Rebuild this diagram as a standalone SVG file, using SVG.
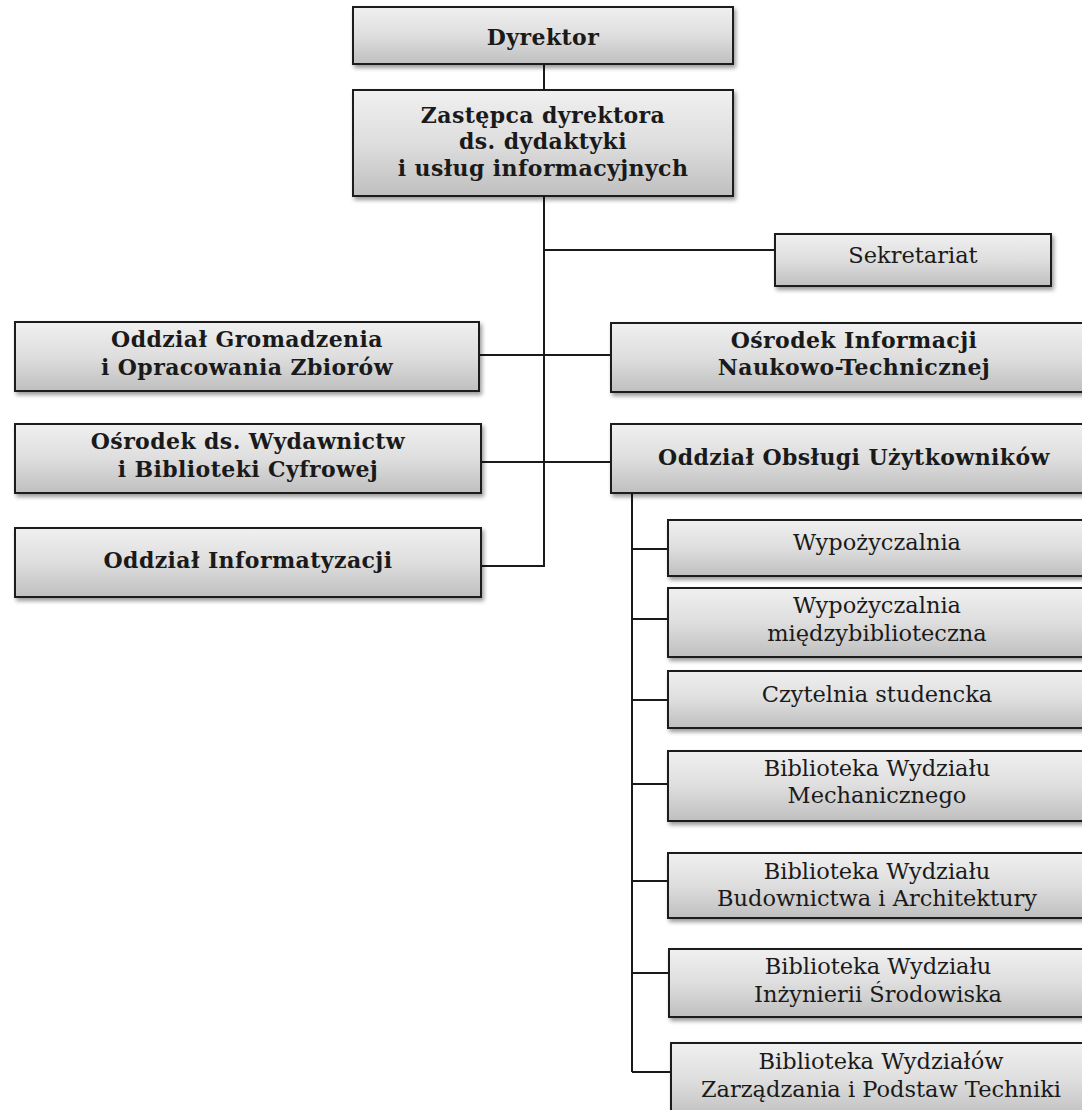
<svg xmlns="http://www.w3.org/2000/svg" width="1082" height="1110" viewBox="0 0 1082 1110">
<defs>
<linearGradient id="g" x1="0" y1="0" x2="0" y2="1">
<stop offset="0" stop-color="#f0f0f0"/>
<stop offset="0.5" stop-color="#dedede"/>
<stop offset="1" stop-color="#bfbfbf"/>
</linearGradient>
<filter id="sh" x="-5%" y="-10%" width="115%" height="130%">
<feDropShadow dx="2" dy="3" stdDeviation="2" flood-color="#000" flood-opacity="0.4"/>
</filter>
</defs>
<style>
.box{fill:url(#g);stroke:#1e1e1e;stroke-width:2;filter:url(#sh)}
.t{font-family:"DejaVu Serif","Liberation Serif",serif;font-size:22.5px;fill:#1a1a1a;text-anchor:middle}
.b{font-weight:bold;font-size:22px;letter-spacing:0.4px}
.c{fill:none;stroke:#1a1a1a;stroke-width:2}
</style>
<rect width="1082" height="1110" fill="#fff"/>
<g id="connectors">
<path class="c" d="M544 64V90M544 196V567M544 250H775M479 355H611M481 462H611M481 566H544"/>
<path class="c" d="M632 493V1072M632 549H668M632 619H668M632 700H668M632 784H668M632 881H668M632 973H669M632 1072H671"/>
</g>
<g id="dyrektor"><rect class="box" x="353" y="7" width="380" height="57"/><text class="t b" x="543" y="45">Dyrektor</text></g>
<g id="zastepca"><rect class="box" x="353" y="90" width="380" height="106"/><text class="t b" x="543" y="123">Zastępca dyrektora</text><text class="t b" x="543" y="149">ds. dydaktyki</text><text class="t b" x="543" y="176">i usług informacyjnych</text></g>
<g id="sekretariat"><rect class="box" x="775" y="234" width="276" height="52"/><text class="t" x="913" y="263">Sekretariat</text></g>
<g id="gromadzenia"><rect class="box" x="15" y="322" width="464" height="69"/><text class="t b" x="247" y="347">Oddział Gromadzenia</text><text class="t b" x="247" y="375">i Opracowania Zbiorów</text></g>
<g id="osrodek-informacji"><rect class="box" x="611" y="323" width="486" height="69"/><text class="t b" x="854" y="348">Ośrodek Informacji</text><text class="t b" x="854" y="375">Naukowo-Technicznej</text></g>
<g id="wydawnictwa"><rect class="box" x="15" y="424" width="466" height="69"/><text class="t b" x="248" y="449">Ośrodek ds. Wydawnictw</text><text class="t b" x="248" y="477">i Biblioteki Cyfrowej</text></g>
<g id="obslugi"><rect class="box" x="611" y="424" width="486" height="69"/><text class="t b" x="854" y="465">Oddział Obsługi Użytkowników</text></g>
<g id="informatyzacji"><rect class="box" x="15" y="528" width="466" height="69"/><text class="t b" x="248" y="568">Oddział Informatyzacji</text></g>
<g id="wypozyczalnia"><rect class="box" x="668" y="520" width="419" height="56"/><text class="t" x="877" y="550">Wypożyczalnia</text></g>
<g id="miedzybiblioteczna"><rect class="box" x="668" y="588" width="419" height="69"/><text class="t" x="877" y="613">Wypożyczalnia</text><text class="t" x="877" y="641">międzybiblioteczna</text></g>
<g id="czytelnia"><rect class="box" x="668" y="671" width="419" height="57"/><text class="t" x="877" y="702">Czytelnia studencka</text></g>
<g id="mechanicznego"><rect class="box" x="668" y="751" width="419" height="70"/><text class="t" x="877" y="776">Biblioteka Wydziału</text><text class="t" x="877" y="803">Mechanicznego</text></g>
<g id="budownictwa"><rect class="box" x="668" y="853" width="419" height="65"/><text class="t" x="877" y="879">Biblioteka Wydziału</text><text class="t" x="877" y="906">Budownictwa i Architektury</text></g>
<g id="inzynierii"><rect class="box" x="669" y="949" width="419" height="68"/><text class="t" x="878" y="974">Biblioteka Wydziału</text><text class="t" x="878" y="1002">Inżynierii Środowiska</text></g>
<g id="zarzadzania"><rect class="box" x="671" y="1043" width="421" height="75"/><text class="t" x="881" y="1069">Biblioteka Wydziałów</text><text class="t" x="881" y="1097">Zarządzania i Podstaw Techniki</text></g>
</svg>
